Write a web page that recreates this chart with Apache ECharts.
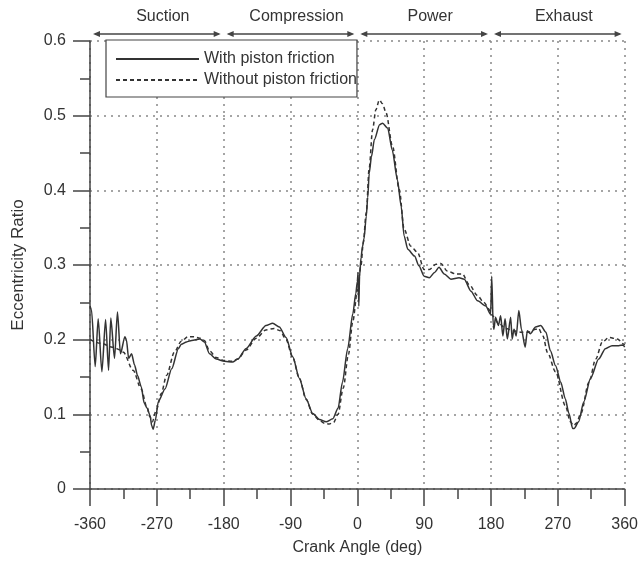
<!DOCTYPE html>
<html>
<head>
<meta charset="utf-8">
<script src="https://cdn.jsdelivr.net/npm/echarts@6/dist/echarts.min.js"></script>
<style>
html,body{margin:0;padding:0;background:#fff;}
#chart{width:641px;height:561px;}
</style>
</head>
<body>
<div id="chart"></div>
<script>
// ---- data ----
var xTicks = [-360, -270, -180, -90, 0, 90, 180, 270, 360];
var seriesNames = ['With piston friction', 'Without piston friction'];
var phaseNames = ['Suction', 'Compression', 'Power', 'Exhaust'];
var phaseStarts = [-360, -180, 0, 180];
var phaseEnds = [-180, 0, 180, 360];

var withAngles = [
  -360, -358, -353, -349, -344, -339, -335, -332, -327, -323, -319, -313, -311, -308, -304, -300, -296, -291, -287, -283, -279, -277, -275, -272,
  -268, -259, -250, -241, -237, -230, -223, -212, -206, -199, -190, -179, -168, -161, -150, -136, -123, -114, -105, -96, -87, -78, -69, -60, -51, -42, -33, -26, -20, -13, -6, -2, 0, 1, 2, 3, 5, 7, 9, 12, 14, 16,
  19, 23, 30, 34, 41, 47, 54, 59, 63, 68, 77, 83, 90, 97, 104, 110, 117, 126, 137, 144, 153, 162, 173, 179.5, 181,
  183, 184, 186, 190, 193, 196, 199, 202, 206.5, 208.5, 211, 214, 217.5, 221, 226, 229, 233, 240, 247, 254, 260, 267, 274, 280, 285, 290, 292, 298, 305, 314, 325, 334, 343, 352, 358, 360
];
var withValues = [
  0.245, 0.240, 0.164, 0.228, 0.157, 0.227, 0.159, 0.229, 0.175, 0.237, 0.181, 0.204, 0.200, 0.175, 0.181, 0.166, 0.152, 0.137, 0.115, 0.108, 0.098, 0.085, 0.080, 0.092,
  0.117, 0.134, 0.161, 0.188, 0.194, 0.197, 0.199, 0.201, 0.197, 0.181, 0.174, 0.171, 0.170, 0.174, 0.188, 0.205, 0.219, 0.222, 0.217, 0.203, 0.177, 0.148, 0.121, 0.101, 0.093, 0.090, 0.094, 0.108, 0.143, 0.188, 0.235, 0.262, 0.278, 0.290, 0.245, 0.285, 0.310, 0.325, 0.335, 0.365, 0.390, 0.423,
  0.445, 0.468, 0.488, 0.490, 0.483, 0.454, 0.414, 0.379, 0.339, 0.321, 0.312, 0.299, 0.285, 0.283, 0.290, 0.297, 0.288, 0.281, 0.283, 0.281, 0.265, 0.252, 0.245, 0.234, 0.285,
  0.219, 0.214, 0.230, 0.219, 0.232, 0.205, 0.228, 0.201, 0.230, 0.201, 0.214, 0.205, 0.239, 0.214, 0.190, 0.212, 0.208, 0.217, 0.219, 0.210, 0.185, 0.165, 0.143, 0.121, 0.101, 0.081, 0.081, 0.090, 0.117, 0.148, 0.174, 0.188, 0.192, 0.192, 0.193, 0.190
];

var withoutAngles = [
  -360, -345, -330, -318, -315, -302, -291, -284, -279, -276, -271, -264, -257, -246, -237, -228, -220, -212, -206, -199, -190, -179, -168, -161, -150, -136, -123, -112, -104, -96, -87, -78, -69, -60, -51, -44, -38, -32, -26, -19, -12, -6, 0, 5, 8, 12, 16,
  20.5, 25, 29.6, 34, 38.6, 47.4, 56.5, 63, 72, 81, 90, 97, 106, 112.5, 121, 133, 141.5, 150.5, 162, 170, 180,
  182, 190, 200, 210, 220, 230, 240, 244, 250, 256, 267, 280, 287, 291, 295, 301, 312, 321, 330, 339, 350, 359, 360
];
var withoutValues = [
  0.200, 0.195, 0.190, 0.186, 0.183, 0.159, 0.134, 0.112, 0.096, 0.090, 0.105, 0.128, 0.152, 0.184, 0.198, 0.204, 0.204, 0.202, 0.199, 0.185, 0.176, 0.172, 0.171, 0.174, 0.186, 0.202, 0.213, 0.215, 0.212, 0.200, 0.176, 0.148, 0.120, 0.100, 0.092, 0.088, 0.087, 0.089, 0.100, 0.135, 0.180, 0.225, 0.265, 0.300, 0.330, 0.370, 0.430,
  0.481, 0.508, 0.521, 0.516, 0.504, 0.459, 0.401, 0.348, 0.325, 0.317, 0.294, 0.294, 0.301, 0.302, 0.292, 0.288, 0.288, 0.274, 0.259, 0.250, 0.238,
  0.232, 0.222, 0.215, 0.212, 0.210, 0.210, 0.214, 0.215, 0.205, 0.183, 0.157, 0.112, 0.090, 0.085, 0.088, 0.101, 0.143, 0.174, 0.197, 0.203, 0.201, 0.194, 0.193
];

function pairs(xs, ys) { return xs.map(function (x, i) { return [x, ys[i]]; }); }

var FONT = '"Liberation Sans", Arial, sans-serif';
var TXT = '#333';
var chart = echarts.init(document.getElementById('chart'), null, {renderer: 'canvas'});

var option = {
  animation: false,
  backgroundColor: '#fff',
  textStyle: {fontFamily: FONT},
  grid: {left: 90, right: 15, top: 41, bottom: 70, containLabel: false},
  legend: {
    orient: 'vertical', left: 106, top: 40,
    padding: [11, 0, 9, 9], itemGap: 5, itemWidth: 83, itemHeight: 14,
    borderColor: '#444', borderWidth: 1.2, backgroundColor: '#fff',
    itemStyle: {opacity: 0},
    textStyle: {fontSize: 16, color: TXT, fontFamily: FONT},
    data: seriesNames
  },
  xAxis: {
    type: 'value', min: -360, max: 360, interval: 90,
    name: 'Crank Angle (deg)', nameLocation: 'middle', nameGap: 51,
    nameTextStyle: {fontSize: 16, color: TXT, fontFamily: FONT},
    axisLine: {show: true, onZero: false, lineStyle: {color: '#444', width: 1.5}},
    axisTick: {show: true, length: 17, lineStyle: {color: '#444', width: 1.5}},
    minorTick: {show: true, splitNumber: 2, length: 10, lineStyle: {color: '#444', width: 1.5}},
    axisLabel: {fontSize: 16, color: TXT, margin: 28, fontFamily: FONT},
    splitLine: {show: true, lineStyle: {color: '#888', width: 1.5, type: [2, 5]}}
  },
  yAxis: {
    type: 'value', min: 0, max: 0.6, interval: 0.1,
    name: 'Eccentricity Ratio', nameLocation: 'middle', nameGap: 63,
    nameTextStyle: {fontSize: 17, color: TXT, fontFamily: FONT},
    axisLine: {show: true, onZero: false, lineStyle: {color: '#444', width: 1.5}},
    axisTick: {show: true, length: 17, lineStyle: {color: '#444', width: 1.5}},
    minorTick: {show: true, splitNumber: 2, length: 10, lineStyle: {color: '#444', width: 1.5}},
    axisLabel: {fontSize: 16, color: TXT, margin: 24, fontFamily: FONT,
      formatter: function (v) { return v === 0 ? '0' : v.toFixed(1); }},
    splitLine: {show: true, lineStyle: {color: '#888', width: 1.5, type: [2, 5]}}
  },
  series: [
    {
      name: seriesNames[0], type: 'line', data: pairs(withAngles, withValues),
      symbol: 'none', smooth: 0.25, smoothMonotone: 'x',
      lineStyle: {color: '#333', width: 1.5, type: 'solid'}, itemStyle: {color: '#333'}
    },
    {
      name: seriesNames[1], type: 'line', data: pairs(withoutAngles, withoutValues),
      symbol: 'none', smooth: 0.3, smoothMonotone: 'x',
      lineStyle: {color: '#333', width: 1.5, type: [4, 3]}, itemStyle: {color: '#333'}
    }
  ]
};
chart.setOption(option);

// phase annotations above the plot, placed through the x axis scale
var graphics = [];
var arrowY = 34, labelY = 17, inset = 3, head = 7, half = 3;
for (var i = 0; i < phaseNames.length; i++) {
  var x0 = chart.convertToPixel({xAxisIndex: 0}, phaseStarts[i]) + inset;
  var x1 = chart.convertToPixel({xAxisIndex: 0}, phaseEnds[i]) - inset;
  graphics.push({type: 'line', shape: {x1: x0 + 2, y1: arrowY, x2: x1 - 2, y2: arrowY},
    style: {stroke: '#444', lineWidth: 1.3}, silent: true});
  graphics.push({type: 'polygon', shape: {points: [[x0, arrowY], [x0 + head, arrowY - half], [x0 + head, arrowY + half]]},
    style: {fill: '#444'}, silent: true});
  graphics.push({type: 'polygon', shape: {points: [[x1, arrowY], [x1 - head, arrowY - half], [x1 - head, arrowY + half]]},
    style: {fill: '#444'}, silent: true});
  graphics.push({type: 'text', x: (x0 + x1) / 2 + 6, y: labelY,
    style: {text: phaseNames[i], fill: TXT, font: '16px ' + FONT, textAlign: 'center', textVerticalAlign: 'middle'},
    silent: true});
}
chart.setOption({graphic: graphics});
</script>
</body>
</html>
